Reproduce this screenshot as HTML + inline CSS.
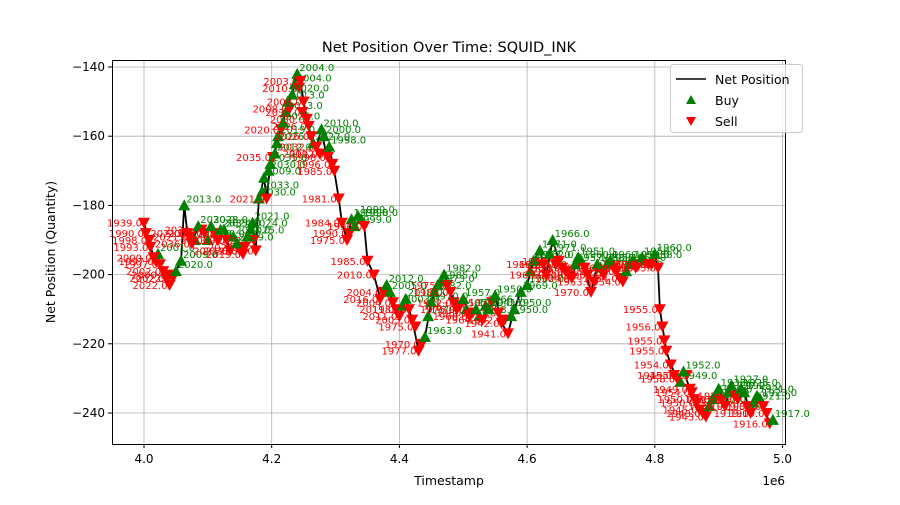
<!DOCTYPE html>
<html><head><meta charset="utf-8"><style>
body{margin:0;background:#fff;font-family:"Liberation Sans","DejaVu Sans",sans-serif}
svg text{font-family:"DejaVu Sans","Liberation Sans",sans-serif}
</style></head><body>
<svg id="chart" width="900" height="500" xmlns="http://www.w3.org/2000/svg">
<rect width="900" height="500" fill="#fff"/>
<text x="449" y="52" font-size="14.5" text-anchor="middle">Net Position Over Time: SQUID_INK</text>
<g id="grid"></g>
<g id="ticks"></g>
<g id="plot"></g>
<rect x="112.5" y="60.5" width="673" height="384" fill="none" stroke="#000" stroke-width="1"/>
<text x="449" y="485" font-size="12.5" text-anchor="middle">Timestamp</text>
<text x="785" y="485" font-size="12" text-anchor="end">1e6</text>
<text transform="translate(55,252) rotate(-90)" font-size="12.5" text-anchor="middle">Net Position (Quantity)</text>
<g>
<rect x="670.5" y="64.5" width="132" height="68" rx="3" fill="#fff" fill-opacity="0.8" stroke="#ccc"/>
<line x1="676" y1="79" x2="706" y2="79" stroke="#000" stroke-width="1.5"/>
<text x="715" y="84" font-size="12.5">Net Position</text>
<polygon points="691,95 696,104 686,104" fill="green"/>
<text x="715" y="105" font-size="12.5">Buy</text>
<polygon points="686,117 696,117 691,126" fill="red"/>
<text x="715" y="126" font-size="12.5">Sell</text>
</g>
</svg>
<script>
const xTicks=[4.0,4.2,4.4,4.6,4.8,5.0];
const yTicks=[-140,-160,-180,-200,-220,-240];
const timestamps=[4000,4008,4015,4025,4035,4040,4050,4058,4063,4068,4075,4085,4095,4105,4115,4125,4135,4145,4155,4162,4170,4175,4180,4188,4192,4198,4205,4210,4218,4225,4232,4240,4245,4250,4255,4262,4270,4278,4285,4290,4298,4305,4310,4318,4325,4335,4345,4350,4360,4370,4380,4390,4400,4410,4420,4430,4440,4450,4460,4470,4480,4490,4500,4510,4520,4530,4540,4550,4560,4570,4580,4590,4600,4610,4620,4630,4640,4650,4660,4670,4680,4690,4700,4710,4720,4730,4740,4750,4760,4770,4780,4790,4800,4805,4808,4812,4818,4825,4835,4845,4855,4862,4870,4880,4890,4900,4910,4920,4930,4940,4950,4960,4970,4980,4985];
const positions=[-185,-190,-195,-197,-201,-203,-199,-196,-180,-188,-191,-186,-188,-186,-190,-187,-193,-191,-194,-189,-185,-193,-178,-172,-178,-168,-165,-160,-156,-150,-148,-142,-144,-150,-155,-160,-163,-158,-165,-163,-170,-178,-185,-190,-184,-183,-186,-196,-200,-207,-203,-208,-212,-207,-213,-222,-218,-208,-203,-200,-205,-210,-207,-212,-210,-213,-210,-206,-214,-217,-210,-205,-203,-196,-193,-200,-190,-196,-199,-201,-195,-198,-205,-197,-200,-196,-199,-202,-197,-198,-195,-197,-194,-198,-210,-215,-222,-226,-230,-228,-233,-236,-239,-241,-236,-233,-238,-232,-236,-234,-240,-235,-238,-243,-242];
const prices=[1939,1998,2000,1997,2002,2022,2020,2009,2013,2021,2036,2030,2035,2028,2033,2024,2021,2029,2019,2025,2021,2037,2030,2009,2021,2035,2012,2019,2026,2013,2020,2004,2003,2008,2030,2026,2032,2010,2012,1998,1985,1981,1984,1975,1990,1999,1996,1985,2010,2016,2012,2004,2011,2010,2003,1977,1963,1970,1973,1982,1989,1975,1957,1966,1960,1964,1941,1950,1942,1941,1950,1969,1962,1953,1971,1969,1966,1952,1960,1964,1951,1949,1970,1958,1955,1960,1950,1954,1961,1953,1950,1958,1960,1955,1955,1956,1955,1954,1958,1952,1949,1950,1945,1943,1942,1939,1930,1927,1919,1925,1919,1921,1930,1916,1917];
// extra clustered trades (markers only)
const extraTimestamps=[4003,4010,4018,4022,4030,4038,4045,4072,4080,4090,4100,4110,4120,4130,4140,4150,4158,4167,4172,4185,4195,4202,4208,4215,4222,4228,4236,4243,4248,4258,4265,4275,4282,4288,4295,4322,4330,4340,4375,4385,4395,4405,4415,4425,4435,4445,4455,4465,4475,4485,4495,4505,4515,4525,4535,4545,4555,4565,4575,4605,4615,4625,4635,4645,4655,4665,4675,4685,4695,4705,4715,4725,4735,4745,4755,4765,4775,4785,4795,4815,4830,4840,4850,4858,4866,4875,4885,4895,4905,4915,4925,4935,4945,4955,4965,4975];
const extraPositions=[-188,-192,-196,-194,-199,-200,-201,-189,-190,-187,-190,-188,-187,-190,-189,-193,-192,-187,-190,-176,-170,-166,-162,-158,-153,-152,-145,-146,-153,-157,-162,-165,-160,-166,-168,-188,-186,-184,-205,-205,-210,-209,-210,-215,-220,-212,-205,-202,-203,-208,-209,-210,-211,-212,-209,-208,-211,-213,-212,-199,-196,-197,-194,-197,-198,-200,-197,-196,-200,-202,-198,-197,-198,-201,-199,-196,-197,-196,-197,-219,-229,-231,-229,-234,-237,-240,-238,-235,-236,-234,-235,-233,-238,-237,-236,-240];
const extraSides=['S','S','S','B','S','S','S','S','B','S','B','S','B','S','B','S','S','B','S','B','B','S','B','S','B','S','B','S','S','S','B','S','B','S','S','S','B','B','S','B','S','B','S','S','S','B','B','B','S','S','S','B','S','B','B','S','S','S','B','B','B','S','B','S','S','S','B','B','S','S','B','B','S','S','B','B','S','B','S','S','S','B','S','S','S','S','B','B','S','B','S','B','S','B','B','S'];
const extraPrices=[1990,1993,1997,2001,2002,2000,2022,2021,2028,2036,2030,2027,2035,2029,2024,2020,2022,2024,2021,2033,2030,2035,2026,2020,2013,2008,2004,2010,2030,2026,2027,2010,2000,1998,1996,1990,1999,1998,2004,2005,2011,2003,1985,1975,1970,1979,1982,1985,1975,1972,1957,1955,1960,1958,1966,1950,1941,1942,1950,1953,1962,1966,1971,1969,1966,1950,1957,1960,1952,1953,1950,1958,1960,1954,1951,1952,1960,1958,1955,1955,1945,1949,1950,1954,1950,1943,1942,1939,1930,1927,1929,1925,1919,1921,1923,1919];
const X=t=>144+(t-4000)*0.6385;
const Xm=v=>144+(v-4.0)*638.5;
const Y=p=>67+(-140-p)*3.46;
const NS="http://www.w3.org/2000/svg";
function mk(tag,attrs,parent){const e=document.createElementNS(NS,tag);for(const k in attrs)e.setAttribute(k,attrs[k]);parent.appendChild(e);return e;}
const grid=document.getElementById('grid'),ticks=document.getElementById('ticks'),plot=document.getElementById('plot');
xTicks.forEach(v=>{const x=Xm(v);
 const g=mk('line',{x1:x,y1:60,x2:x,y2:444,stroke:'#b0b0b0','stroke-width':0.8},grid);
 
 
 mk('line',{x1:x,y1:444,x2:x,y2:448,stroke:'#000'},ticks);
 const t=mk('text',{x:x,y:463,'font-size':12,'text-anchor':'middle'},ticks);t.textContent=v.toFixed(1);
 
 });
yTicks.forEach(v=>{const y=Y(v);
 const g=mk('line',{x1:112,y1:y,x2:785,y2:y,stroke:'#b0b0b0','stroke-width':0.8},grid);
 
 
 mk('line',{x1:108,y1:y,x2:112,y2:y,stroke:'#000'},ticks);
 const t=mk('text',{x:105,y:y+4,'font-size':12,'text-anchor':'end'},ticks);t.textContent=String(v).replace('-','\u2212');
 
 });
const pts=timestamps.map((t,i)=>X(t)+','+Y(positions[i])).join(' ');
const line=mk('polyline',{points:pts,fill:'none',stroke:'#000','stroke-width':1.8},plot);


function drawTrade(x,y,buy,price){
 const m=mk('polygon',{points:buy?`${x},${y-6} ${x+6},${y+5} ${x-6},${y+5}`:`${x-6},${y-5} ${x+6},${y-5} ${x},${y+6}`,fill:buy?'green':'red'},plot);
 
 
 const l=mk('text',{x:buy?x+2:x-2,y:buy?y-3:y+4,'font-size':10,fill:buy?'green':'red','text-anchor':buy?'start':'end'},plot);
 l.textContent=price.toFixed(1);
 
 
}
extraTimestamps.forEach((t,i)=>drawTrade(X(t),Y(extraPositions[i]),extraSides[i]==='B',extraPrices[i]));
timestamps.forEach((t,i)=>{
 const buy=i>0?positions[i]>positions[i-1]:false;
 drawTrade(X(t),Y(positions[i]),buy,prices[i]);
});
</script>
</body></html>
